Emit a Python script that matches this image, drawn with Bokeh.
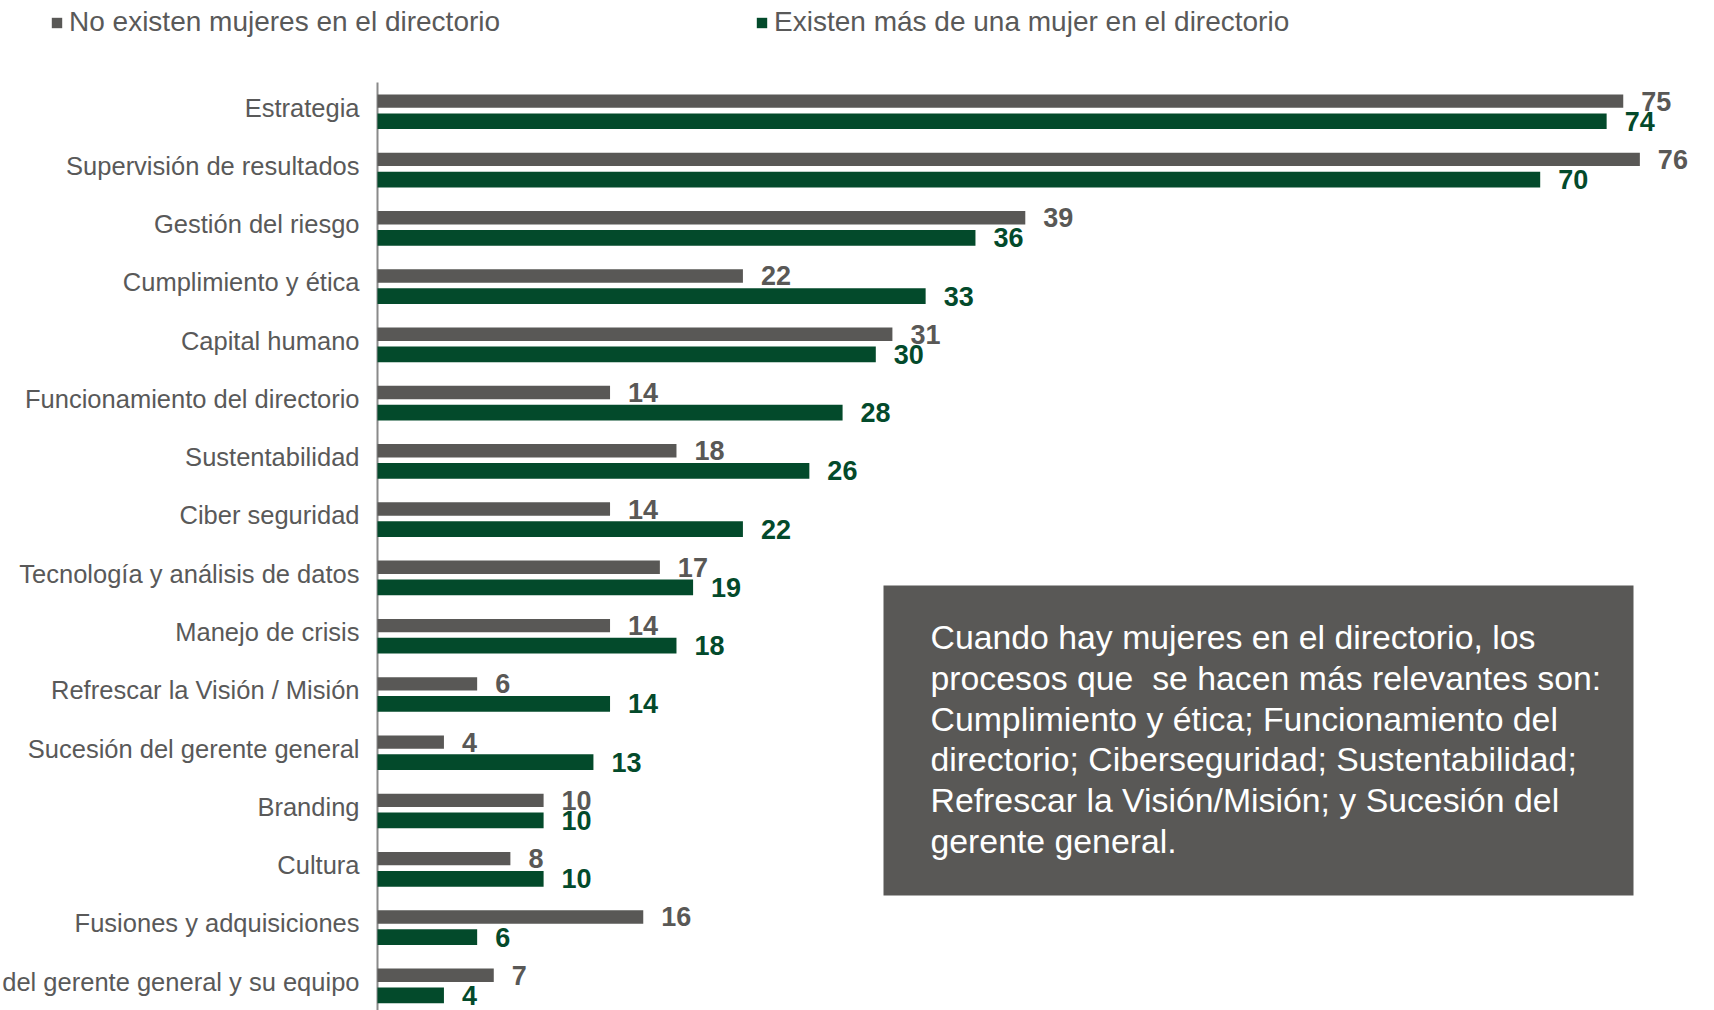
from bokeh.plotting import figure
from bokeh.models import (ColumnDataSource, Range1d, Legend, LegendItem,
                          BoxAnnotation, Label)
from bokeh.transform import dodge
from bokeh.core.properties import value
from bokeh.embed import file_html
from bokeh.resources import INLINE

# ---------------- data ----------------
categories = [
    "Estrategia",
    "Supervisión de resultados",
    "Gestión del riesgo",
    "Cumplimiento y ética",
    "Capital humano",
    "Funcionamiento del directorio",
    "Sustentabilidad",
    "Ciber seguridad",
    "Tecnología y análisis de datos",
    "Manejo de crisis",
    "Refrescar la Visión / Misión",
    "Sucesión del gerente general",
    "Branding",
    "Cultura",
    "Fusiones y adquisiciones",
    "del gerente general y su equipo",
]
sin_mujeres = [75, 76, 39, 22, 31, 14, 18, 14, 17, 14, 6, 4, 10, 8, 16, 7]
con_mujeres = [74, 70, 36, 33, 30, 28, 26, 22, 19, 18, 14, 13, 10, 10, 6, 4]
series_names = ["No existen mujeres en el directorio",
                "Existen más de una mujer en el directorio"]
note_lines = [
    "Cuando hay mujeres en el directorio, los",
    "procesos que \u00a0se hacen más relevantes son:",
    "Cumplimiento y ética; Funcionamiento del",
    "directorio; Ciberseguridad; Sustentabilidad;",
    "Refrescar la Visión/Misión; y Sucesión del",
    "gerente general.",
]

# ---------------- style ----------------
GRAY = "#595856"
GREEN = "#034A2B"
TEXT = "#595959"
AXIS = "#8a8a8a"
FONT = "Liberation Sans"

W, H = 1714, 1010
LEFT = 377       # x of the value axis inside the canvas
TOP = 82         # y of the first category band top inside the canvas
PX_UNIT = 16.61  # px per value unit
PX_CAT = 58.27   # px per category

x_start = -LEFT / PX_UNIT
x_end = (W - LEFT) / PX_UNIT
y_top = -0.5 - TOP / PX_CAT
y_bot = -0.5 + (H - TOP) / PX_CAT

def xd(px):   # canvas pixel -> data x
    return (px - LEFT) / PX_UNIT

def yd(py):   # canvas pixel -> data y
    return (py - TOP) / PX_CAT - 0.5

idx = list(range(len(categories)))
src = ColumnDataSource(dict(
    y=idx, cat=categories, zero=[0] * len(idx),
    sin=sin_mujeres, con=con_mujeres,
    sin_t=[str(v) for v in sin_mujeres], con_t=[str(v) for v in con_mujeres],
))

p = figure(width=W, height=H, output_backend="svg", toolbar_location=None,
           x_range=Range1d(x_start, x_end), y_range=Range1d(y_bot, y_top),
           min_border_left=0, min_border_top=0,
           min_border_right=0, min_border_bottom=0)
p.outline_line_color = None
p.xgrid.visible = False
p.ygrid.visible = False
p.xaxis.visible = False
p.yaxis.visible = False

# value axis line (x = 0) spanning the category bands
p.segment(x0=0, y0=-0.5, x1=0, y1=y_bot, line_color=AXIS, line_width=2)

# category labels
p.text(x="zero", y=dodge("y", -0.07), text="cat", source=src, x_offset=-18,
       text_baseline="middle", text_align="right", text_font=value(FONT),
       text_font_size="25.5px", text_color=TEXT)

G_OFF, N_OFF = -0.18, 0.165
r1 = p.hbar(y=dodge("y", G_OFF), left=0, right="sin", height=0.23,
            source=src, fill_color=GRAY, line_color=None)
r2 = p.hbar(y=dodge("y", N_OFF), left=0, right="con", height=0.27,
            source=src, fill_color=GREEN, line_color=None)

p.text(x="sin", y=dodge("y", G_OFF), text="sin_t", source=src, x_offset=18,
       text_baseline="middle", text_align="left", text_font=value(FONT),
       text_font_style="bold", text_font_size="27px", text_color=GRAY)
p.text(x="con", y=dodge("y", N_OFF), text="con_t", source=src, x_offset=18,
       text_baseline="middle", text_align="left", text_font=value(FONT),
       text_font_style="bold", text_font_size="27px", text_color=GREEN)

legend = Legend(
    items=[LegendItem(label=series_names[0], renderers=[r1]),
           LegendItem(label=series_names[1], renderers=[r2])],
    orientation="horizontal", location=(50, H - 38),
    padding=0, margin=0, spacing=255, glyph_width=13, glyph_height=13,
    label_standoff=6, label_text_font=FONT, label_text_font_size="28px",
    label_text_color=TEXT, border_line_color=None, background_fill_alpha=0,
)
p.add_layout(legend)

box = BoxAnnotation(left=xd(883), right=xd(1633), top=yd(585), bottom=yd(895),
                    fill_color=GRAY, fill_alpha=1.0, line_color=None)
p.add_layout(box)

for k, line in enumerate(note_lines):
    p.add_layout(Label(x=xd(930), y=yd(636.7 + k * 40.7), text=line,
                       text_font=FONT, text_font_size="33.8px", text_color="white",
                       text_baseline="alphabetic", text_align="left"))

open("out.html", "w").write(file_html(p, INLINE))
